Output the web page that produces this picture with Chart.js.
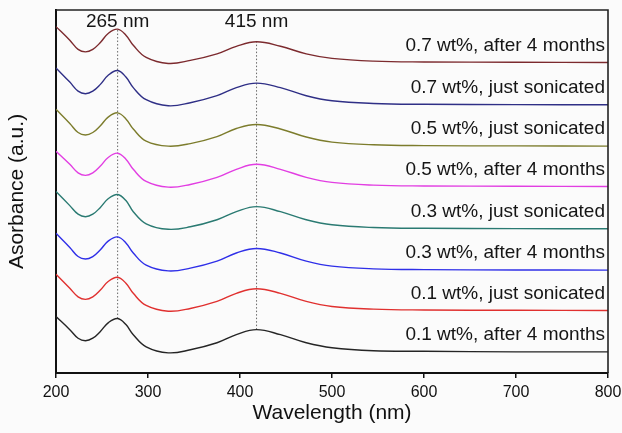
<!DOCTYPE html>
<html>
<head>
<meta charset="utf-8">
<script src="https://cdn.jsdelivr.net/npm/chart.js@4/dist/chart.umd.min.js"></script>
<style>
  html, body { margin: 0; padding: 0; background: #fbfbfb; }
  #wrap { width: 622px; height: 433px; }
</style>
</head>
<body>
<div id="wrap"><canvas id="uv-chart"></canvas></div>
<script>
// wavelengths (nm)
var wavelengths = [200, 215, 224, 232, 240, 248, 257, 267, 276, 284, 298, 322, 346, 375, 396, 418, 444, 472, 500, 545, 600, 700, 800];

// stacked absorbance spectra (a.u., offset already applied), bottom to top
var abs01After  = [0.56, 0.43, 0.345, 0.32, 0.345, 0.41, 0.50, 0.54, 0.48, 0.38, 0.26, 0.20, 0.23, 0.30, 0.38, 0.43, 0.38, 0.30, 0.25, 0.22, 0.215, 0.21, 0.21];
var abs01Just   = [0.98, 0.84, 0.755, 0.73, 0.755, 0.82, 0.91, 0.95, 0.89, 0.79, 0.67, 0.613, 0.64, 0.71, 0.79, 0.835, 0.79, 0.71, 0.66, 0.633, 0.625, 0.622, 0.62];
var abs03After  = [1.385, 1.245, 1.155, 1.13, 1.155, 1.22, 1.31, 1.35, 1.29, 1.19, 1.07, 1.013, 1.04, 1.11, 1.19, 1.235, 1.19, 1.11, 1.06, 1.033, 1.025, 1.022, 1.02];
var abs03Just   = [1.80, 1.66, 1.575, 1.55, 1.575, 1.64, 1.73, 1.77, 1.71, 1.60, 1.48, 1.425, 1.45, 1.52, 1.60, 1.65, 1.60, 1.52, 1.47, 1.443, 1.435, 1.432, 1.43];
var abs05After  = [2.20, 2.07, 1.985, 1.96, 1.985, 2.05, 2.14, 2.18, 2.12, 2.02, 1.90, 1.843, 1.87, 1.94, 2.02, 2.07, 2.02, 1.94, 1.89, 1.863, 1.855, 1.852, 1.85];
var abs05Just   = [2.615, 2.475, 2.385, 2.36, 2.385, 2.45, 2.54, 2.58, 2.52, 2.42, 2.30, 2.25, 2.275, 2.345, 2.425, 2.465, 2.42, 2.34, 2.29, 2.263, 2.255, 2.252, 2.25];
var abs07Just   = [3.025, 2.885, 2.795, 2.77, 2.795, 2.86, 2.955, 3.00, 2.935, 2.83, 2.71, 2.65, 2.68, 2.75, 2.83, 2.875, 2.83, 2.75, 2.70, 2.673, 2.665, 2.662, 2.66];
var abs07After  = [3.435, 3.30, 3.21, 3.185, 3.21, 3.275, 3.37, 3.41, 3.35, 3.25, 3.13, 3.07, 3.10, 3.165, 3.24, 3.285, 3.24, 3.165, 3.12, 3.093, 3.085, 3.082, 3.08];

var seriesNames = ['0.1 wt%, after 4 months', '0.1 wt%, just sonicated', '0.3 wt%, after 4 months', '0.3 wt%, just sonicated',
                   '0.5 wt%, after 4 months', '0.5 wt%, just sonicated', '0.7 wt%, just sonicated', '0.7 wt%, after 4 months'];
var seriesValues = [abs01After, abs01Just, abs03After, abs03Just, abs05After, abs05Just, abs07Just, abs07After];
var seriesColors = ['#252525', '#e0302f', '#2f2fe8', '#2a7a72', '#e23ee2', '#7c7c2c', '#2f2f86', '#7c2a2e'];

// peak markers
var peakPositions = [267, 418];
var peakLabels = ['265 nm', '415 nm'];
var xTicks = [200, 300, 400, 500, 600, 700, 800];

var FONT = '"Liberation Sans", Arial, sans-serif';

// build line datasets
var datasets = [];
seriesValues.forEach(function(vals, i) {
    var pts = [];
    for (var j = 0; j < wavelengths.length; j++) {
        pts.push({ x: wavelengths[j], y: vals[j] });
    }
    datasets.push({
        label: seriesNames[i],
        data: pts,
        borderColor: seriesColors[i],
        borderWidth: 1.4,
        pointRadius: 0,
        fill: false,
        tension: 0.4
    });
});

// dotted lines through the peaks, from lowest to highest curve
peakPositions.forEach(function(p) {
    var k = wavelengths.indexOf(p);
    datasets.push({
        label: 'marker',
        data: [{ x: p, y: seriesValues[0][k] }, { x: p, y: seriesValues[seriesValues.length - 1][k] }],
        borderColor: '#666',
        borderWidth: 1,
        borderDash: [1.5, 2],
        pointRadius: 0,
        fill: false
    });
});

// text labels + top/right frame
var annotatePlugin = {
    id: 'annotate',
    afterDatasetsDraw: function(chart) {
        var ctx = chart.ctx;
        var xs = chart.scales.x, ys = chart.scales.y;
        var area = chart.chartArea;
        ctx.save();
        ctx.fillStyle = '#151515';
        ctx.font = '19px ' + FONT;
        ctx.textAlign = 'right';
        ctx.textBaseline = 'middle';
        seriesValues.forEach(function(vals, i) {
            var last = vals[vals.length - 1];
            ctx.fillText(seriesNames[i], xs.getPixelForValue(800) - 3, ys.getPixelForValue(last + 0.17));
        });
        ctx.textAlign = 'center';
        peakPositions.forEach(function(p, i) {
            ctx.fillText(peakLabels[i], xs.getPixelForValue(p), ys.getPixelForValue(3.48));
        });
        // frame on top and right
        ctx.strokeStyle = '#222';
        ctx.lineWidth = 1.6;
        ctx.beginPath();
        ctx.moveTo(area.left, area.top);
        ctx.lineTo(area.right, area.top);
        ctx.lineTo(area.right, area.bottom);
        ctx.stroke();
        ctx.restore();
    }
};

var ctx = document.getElementById('uv-chart').getContext('2d');
new Chart(ctx, {
    type: 'line',
    data: { datasets: datasets },
    plugins: [annotatePlugin],
    options: {
        responsive: true,
        maintainAspectRatio: false,
        animation: false,
        layout: { padding: { top: 10, right: 14, bottom: 5, left: 0 } },
        plugins: {
            legend: { display: false },
            tooltip: { enabled: false }
        },
        scales: {
            x: {
                type: 'linear',
                min: 200,
                max: 800,
                afterBuildTicks: function(scale) {
                    scale.ticks = xTicks.map(function(v) { return { value: v }; });
                },
                afterFit: function(scale) {
                    scale.height = 55;
                    scale.paddingLeft = 0;
                    scale.paddingRight = 0;
                },
                grid: { display: true, drawOnChartArea: false, drawTicks: true, tickLength: 5, color: '#111', lineWidth: 1.5 },
                border: { display: true, color: '#111', width: 2 },
                ticks: { color: '#111', padding: 5, font: { family: FONT, size: 16 } },
                title: { display: true, text: 'Wavelength (nm)', color: '#111', padding: { top: 0, bottom: 2 }, font: { family: FONT, size: 21 } }
            },
            y: {
                min: 0,
                max: 3.6,
                afterFit: function(scale) { scale.width = 56; },
                grid: { display: false },
                border: { display: true, color: '#111', width: 2 },
                ticks: { display: false },
                title: { display: true, text: 'Asorbance (a.u.)', color: '#111', padding: { top: 5, bottom: 0 }, font: { family: FONT, size: 21 } }
            }
        }
    }
});
</script>
</body>
</html>
